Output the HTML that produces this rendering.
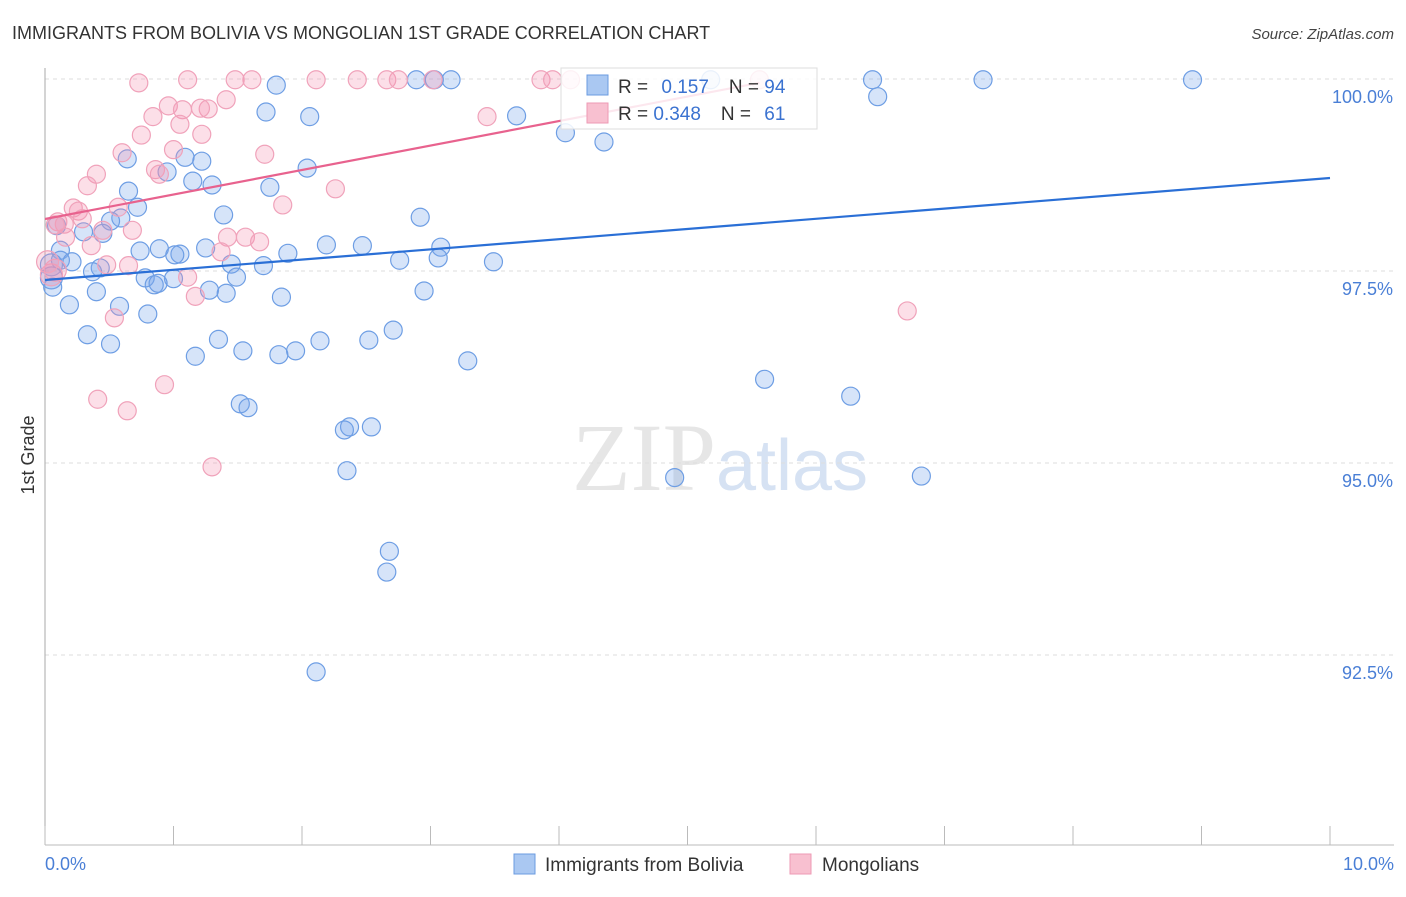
<!DOCTYPE html>
<html><head><meta charset="utf-8"><style>
body{margin:0;background:#fff;font-family:"Liberation Sans",sans-serif}
svg text{font-family:"Liberation Sans",sans-serif}
</style></head><body>
<svg id="chart" width="1406" height="892" xmlns="http://www.w3.org/2000/svg">
<text x="12" y="39" font-size="18" fill="#333">IMMIGRANTS FROM BOLIVIA VS MONGOLIAN 1ST GRADE CORRELATION CHART</text>
<text x="1394" y="39" font-size="15" fill="#444" text-anchor="end" font-style="italic">Source: ZipAtlas.com</text>
<text x="720" y="490" font-size="96" text-anchor="middle" fill="#e6e6e6"><tspan font-family="Liberation Serif">ZIP</tspan><tspan fill="#d6e2f3" font-size="72">atlas</tspan></text>
<g id="grid"></g>
<g id="axes"></g>
<g id="blue"></g>
<g id="pink"></g>
<g id="trends"></g>
<text transform="translate(34,455) rotate(-90)" font-size="18" fill="#333" text-anchor="middle">1st Grade</text>
<text x="45" y="870" font-size="18" fill="#4a7fd6">0.0%</text>
<text x="1394" y="870" font-size="18" fill="#4a7fd6" text-anchor="end">10.0%</text>
<g>
<rect x="561" y="68" width="256" height="61" fill="#fff" fill-opacity="0.85" stroke="#ddd"/>
<rect x="587" y="75" width="21" height="20" fill="#aac8f2" stroke="#6b9be0"/>
<rect x="587" y="103" width="21" height="20" fill="#f8c0d0" stroke="#ee9ab4"/>
<text x="618" y="93" font-size="19" fill="#333">R = <tspan fill="#3a72d0" dx="8">0.157</tspan><tspan dx="20" fill="#333">N = </tspan><tspan fill="#3a72d0">94</tspan></text>
<text x="618" y="120" font-size="19" fill="#333">R = <tspan fill="#3a72d0">0.348</tspan><tspan dx="20" fill="#333">N = </tspan><tspan fill="#3a72d0" dx="8">61</tspan></text>
</g>
<g>
<rect x="514" y="854" width="21" height="20" fill="#aac8f2" stroke="#6b9be0"/>
<text x="545" y="871" font-size="19" fill="#333">Immigrants from Bolivia</text>
<rect x="790" y="854" width="21" height="20" fill="#f8c0d0" stroke="#ee9ab4"/>
<text x="822" y="871" font-size="19" fill="#333">Mongolians</text>
</g>
</svg>
<script>
const yTicks=[100,97.5,95,92.5];
const yTickLabels=["100.0%","97.5%","95.0%","92.5%"];
const xTicks=[0,1,2,3,4,5,6,7,8,9,10];
const blueX=[1.80,2.89,3.03,3.16,5.18,6.44,7.30,8.93,1.72,2.06,3.67,6.48,4.05,4.35,1.09,0.64,1.22,0.95,2.04,1.15,1.30,1.75,0.65,0.72,0.59,0.51,1.39,2.92,0.09,0.30,0.45,0.12,0.74,0.89,1.25,1.05,1.01,2.19,2.47,3.08,1.89,2.76,3.06,3.49,1.45,1.70,0.12,0.21,0.05,0.43,0.37,0.78,1.00,0.85,0.88,1.49,0.05,0.06,0.40,1.28,1.41,1.84,2.95,0.19,0.58,0.80,0.33,0.51,1.35,2.14,2.52,2.71,1.17,1.54,1.95,1.82,3.29,5.60,6.27,1.52,1.58,2.37,2.33,2.54,2.35,4.90,6.82,2.68,2.66,2.11];
const blueY=[99.92,99.99,99.99,99.99,99.99,99.99,99.99,99.99,99.57,99.51,99.52,99.77,99.30,99.18,98.98,98.96,98.93,98.79,98.84,98.67,98.62,98.59,98.54,98.33,98.19,98.15,98.23,98.20,98.09,98.01,97.99,97.77,97.76,97.79,97.80,97.72,97.71,97.84,97.83,97.81,97.73,97.64,97.67,97.62,97.59,97.57,97.64,97.62,97.58,97.54,97.49,97.41,97.40,97.32,97.34,97.42,97.41,97.29,97.23,97.25,97.21,97.16,97.24,97.06,97.04,96.94,96.67,96.55,96.61,96.59,96.60,96.73,96.39,96.46,96.46,96.41,96.33,96.09,95.87,95.77,95.72,95.47,95.43,95.47,94.90,94.81,94.83,93.85,93.58,92.28];
const pinkX=[0.73,1.11,1.48,1.61,2.11,2.43,2.66,2.75,3.02,3.86,3.95,4.09,5.56,0.96,0.84,1.07,1.27,1.21,1.41,3.44,0.75,1.05,1.22,0.60,1.00,1.71,0.86,0.89,0.40,0.33,2.26,1.85,0.57,0.22,0.26,0.10,0.15,0.29,0.08,0.16,0.36,0.45,0.68,1.42,1.56,1.67,1.37,0.48,0.65,1.11,1.17,0.54,6.71,0.93,0.41,0.64,1.30,0.05,0.08,0.02];
const pinkY=[99.95,99.99,99.99,99.99,99.99,99.99,99.99,99.99,99.99,99.99,99.99,99.99,99.99,99.65,99.51,99.60,99.61,99.62,99.73,99.51,99.27,99.41,99.28,99.04,99.08,99.02,98.82,98.76,98.76,98.61,98.57,98.36,98.33,98.32,98.28,98.14,98.11,98.18,98.10,97.94,97.83,98.03,98.03,97.94,97.94,97.88,97.75,97.58,97.57,97.42,97.17,96.89,96.98,96.02,95.83,95.68,94.95,97.45,97.51,97.62];
const blueTrend=[[0,97.383],[10,98.711]];
const pinkTrend=[[0,98.177],[5.56,99.95]];
const NS="http://www.w3.org/2000/svg";
function sx(v){return 45+v*128.5;}
function sy(v){return 79+(100-v)/2.5*192;}
function mk(tag,attrs,parent){const e=document.createElementNS(NS,tag);for(const k in attrs)e.setAttribute(k,attrs[k]);document.getElementById(parent).appendChild(e);return e;}
yTicks.forEach((t,i)=>{
 const l=mk('line',{x1:45,x2:1394,y1:sy(t),y2:sy(t),stroke:'#ddd','stroke-dasharray':'4,4'},'grid');
 
 
 const tx=mk('text',{x:1393,y:sy(t)+24,'font-size':18,fill:'#4a7fd6','text-anchor':'end'},'grid');
 tx.textContent=yTickLabels[i];
 
 
});
const ax=mk('line',{x1:45,x2:45,y1:68,y2:845,stroke:'#aaa'},'axes');


const bx=mk('line',{x1:45,x2:1394,y1:845,y2:845,stroke:'#bbb'},'axes');


xTicks.forEach(t=>{
 const l=mk('line',{x1:sx(t),x2:sx(t),y1:826,y2:845,stroke:'#bbb'},'axes');
 
 
});
blueX.forEach((v,i)=>{
 const c=mk('circle',{cx:sx(v),cy:sy(blueY[i]),r:(i===48||i===56)?11:9,fill:'rgba(120,165,235,0.3)',stroke:'#6e9ee4','stroke-width':1.2},'blue');
 
 
});
pinkX.forEach((v,i)=>{
 const c=mk('circle',{cx:sx(v),cy:sy(pinkY[i]),r:i>=57?11:9,fill:'rgba(245,150,180,0.3)',stroke:'#f0a2ba','stroke-width':1.2},'pink');
 
 
});
const bl=mk('line',{x1:sx(blueTrend[0][0]),y1:sy(blueTrend[0][1]),x2:sx(blueTrend[1][0]),y2:sy(blueTrend[1][1]),stroke:'#2a6fd6','stroke-width':2.2},'trends');


const pl=mk('line',{x1:sx(pinkTrend[0][0]),y1:sy(pinkTrend[0][1]),x2:sx(pinkTrend[1][0]),y2:sy(pinkTrend[1][1]),stroke:'#e8628e','stroke-width':2.2},'trends');


</script>
</body></html>
